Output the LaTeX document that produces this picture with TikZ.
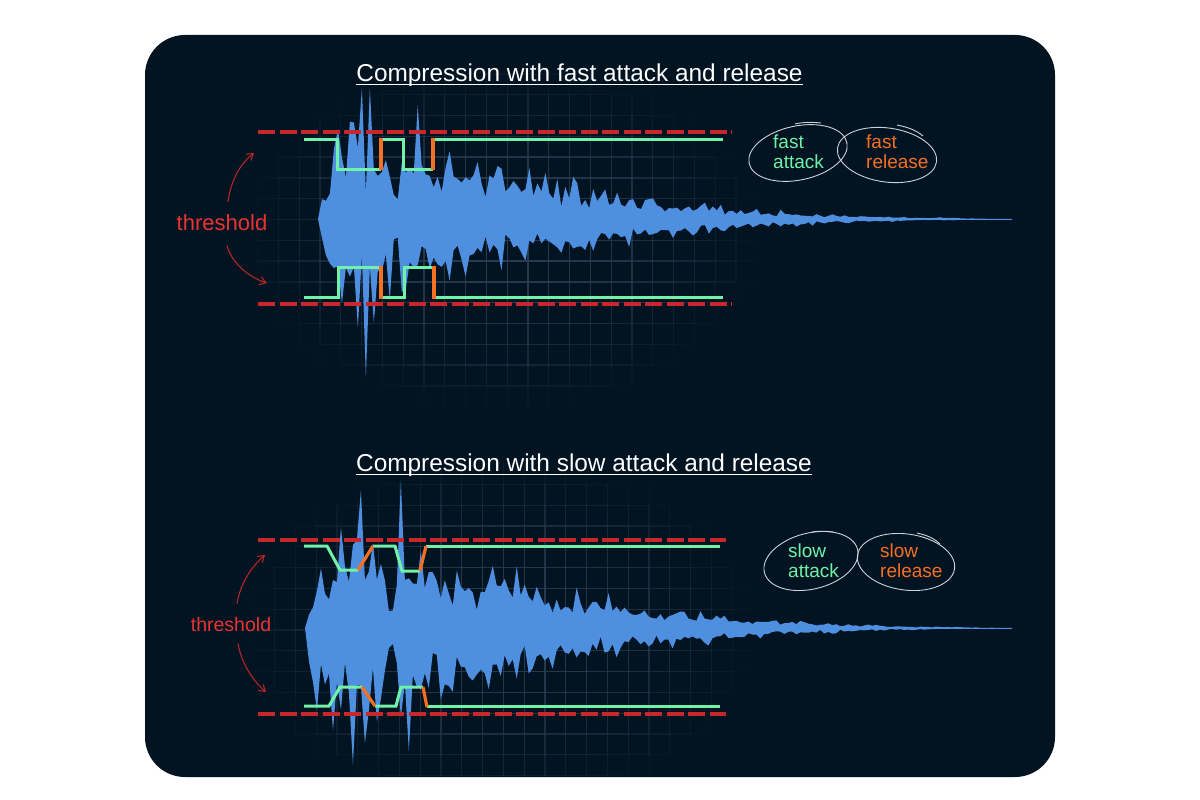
\documentclass[tikz,border=0pt]{standalone}
\usepackage{fontspec}
\setmainfont{Liberation Sans}
\usetikzlibrary{arrows.meta}

\definecolor{bgnavy}{RGB}{2,19,34}
\definecolor{gridnavy}{RGB}{42,60,80}
\definecolor{wavblue}{RGB}{78,143,224}
\definecolor{thrred}{RGB}{198,40,44}
\definecolor{txtred}{RGB}{232,52,50}
\definecolor{arrred}{RGB}{180,38,40}
\definecolor{gainmint}{RGB}{112,242,168}
\definecolor{relorange}{RGB}{245,112,34}
\definecolor{sketchgray}{RGB}{205,210,216}

\tikzset{
  gridline/.style={gridnavy, line width=1.3},
  wave/.style={fill=wavblue},
  thrline/.style={thrred, line width=3.5, dash pattern=on 17pt off 4.5pt},
  gain/.style={gainmint, line width=3},
  gainrel/.style={relorange, line width=3.2},
  ttl/.style={white, inner sep=0, anchor=base, font=\fontsize{24.4}{28}\selectfont},
  thrlbl/.style={txtred, inner sep=0, anchor=base},
  thrarrow/.style={arrred, line width=1.1, -{Straight Barb[length=6pt,width=8pt]}},
  lbl/.style={inner sep=0, anchor=base west, font=\fontsize{19}{20}\selectfont},
  sketch/.style={sketchgray, line width=0.9},
}

\begin{document}
\begin{tikzpicture}[x=1pt,y=-1pt,
  declare function={
    aenv(\x)=60*(1-exp(-(\x-318)/10))*exp(-(\x-345)/437-((\x-345)/360)^2)*min(1,(1012-\x)/60)*(1-0.8*exp(-((\x-397)/5)^2));
    aspk(\x)=80*exp(-((\x-362)/12)^2)+70*exp(-((\x-416)/10)^2)+0.9*aenv(\x);
    benv(\x)=64*(1-exp(-(\x-305)/9))*exp(-(\x-340)/437-((\x-340)/360)^2)*min(1,(1012-\x)/60)*(1-0.8*exp(-((\x-390)/5)^2));
    bspk(\x)=85*exp(-((\x-353)/12)^2)+70*exp(-((\x-406)/10)^2)+0.9*benv(\x);
  }]
%%%%% START %%%%%

\useasboundingbox (0,0) rectangle (1200,800);
\fill[white] (0,0) rectangle (1200,800);
\fill[bgnavy, rounded corners=40] (145,35) rectangle (1055,777);

% faint grids, fading away from the middle
\begin{scope}
  \clip[rounded corners=40] (145,35) rectangle (1055,777);
  \foreach \i in {-3,...,20}{
    \foreach \j in {-7,...,8}{
      \pgfmathsetmacro\gx{320+20.8*\i}
      \pgfmathsetmacro\gy{219.5+20.8*\j}
      \pgfmathsetmacro\gop{max(0,1-((\gx+10.4-500)/260)^2-((\gy-235)/175)^2)}
      \draw[gridline, opacity=\gop] (\gx,\gy) -- ++(20.8,0);
      \pgfmathsetmacro\gop{max(0,1-((\gx-500)/260)^2-((\gy+10.4-235)/175)^2)}
      \draw[gridline, opacity=\gop] (\gx,\gy) -- ++(0,20.8);
    }
  }
  \foreach \i in {-4,...,19}{
    \foreach \j in {-8,...,7}{
      \pgfmathsetmacro\gx{337+20.8*\i}
      \pgfmathsetmacro\gy{630+20.8*\j}
      \pgfmathsetmacro\gop{max(0,1-((\gx+10.4-500)/260)^2-((\gy-630)/175)^2)}
      \draw[gridline, opacity=\gop] (\gx,\gy) -- ++(20.8,0);
      \pgfmathsetmacro\gop{max(0,1-((\gx-500)/260)^2-((\gy+10.4-630)/175)^2)}
      \draw[gridline, opacity=\gop] (\gx,\gy) -- ++(0,20.8);
    }
  }
\end{scope}

\pgfmathsetseed{12}

% fast panel
\node[ttl] (ttlfast) at (579.5,81.7) {Compression with fast attack and release};
\draw[white, line width=1.5] ([yshift=-2.7pt]ttlfast.base west) -- ([yshift=-2.7pt]ttlfast.base east);

\fill[wave] plot[domain=318:1012, samples=175] (\x,{219-min(131,aenv(\x)*(0.35+0.65*sqrt(rnd))+aspk(\x)*rnd^3)})
  -- plot[domain=1012:318, samples=175] (\x,{219+min(168,aenv(\x)*(0.35+0.65*sqrt(rnd))+aspk(\x)*rnd^3)}) -- cycle;
\draw[wavblue, line width=1] (318,219) -- (1012,219);

\draw[thrline] (258,132) -- (732,132);
\draw[thrline] (258,304) -- (732,304);

\draw[gain] (304,139) -- (337,139) -- (337,169) -- (381,169);
\draw[gain] (381,139) -- (403,139) -- (403,169) -- (433,169);
\draw[gain] (433,139) -- (723,139);
\draw[gain] (304,297) -- (338,297) -- (338,267) -- (381,267);
\draw[gain] (381,297) -- (404,297) -- (404,267) -- (434,267);
\draw[gain] (434,297) -- (723,297);
\draw[gainrel] (381,170) -- (381,138);
\draw[gainrel] (433,170) -- (433,138);
\draw[gainrel] (381,266) -- (381,299);
\draw[gainrel] (434,266) -- (434,299);

\node[thrlbl, font=\fontsize{22}{26}\selectfont] (thrfast) at (222,230) {threshold};
\coordinate (thrfastU) at (254,153);
\coordinate (thrfastD) at (267,283);
\draw[thrarrow] ([shift={(6,-12)}]thrfast.north) .. controls (231,180) and (240,164) .. (thrfastU);
\draw[thrarrow] ([shift={(5,15)}]thrfast.south) .. controls (231,262) and (248,277) .. (thrfastD);

\draw[sketch, rotate around={12:(798,153)}] (798,153) ellipse [x radius=50, y radius=27];
\draw[sketch] (795,124) .. controls (803,122) and (812,122) .. (821,123);
\draw[sketch, rotate around={-8:(887,155)}] (887,155) ellipse [x radius=50, y radius=27];
\draw[sketch] (897,125) .. controls (907,127) and (916,130) .. (923,136);

\node[lbl, gainmint] (fastatk1) at (773,148) {fast};
\node[lbl, gainmint] (fastatk2) at (773,168) {attack};
\node[lbl, relorange] (fastrel1) at (866,148) {fast};
\node[lbl, relorange] (fastrel2) at (866,168) {release};

% slow panel
\node[ttl] (ttlslow) at (584,471.7) {Compression with slow attack and release};
\draw[white, line width=1.5] ([yshift=-2.7pt]ttlslow.base west) -- ([yshift=-2.7pt]ttlslow.base east);

\fill[wave] plot[domain=305:1012, samples=178] (\x,{628-min(150,benv(\x)*(0.35+0.65*sqrt(rnd))+bspk(\x)*rnd^3)})
  -- plot[domain=1012:305, samples=178] (\x,{628+min(137,benv(\x)*(0.35+0.65*sqrt(rnd))+bspk(\x)*rnd^3)}) -- cycle;
\draw[wavblue, line width=1] (305,628) -- (1012,628);

\draw[thrline] (258,540) -- (726,540);
\draw[thrline] (258,714) -- (726,714);

\draw[gain] (304,546) -- (327,546) -- (340,570) -- (358,570);
\draw[gain] (373,546) -- (395,546) -- (402,571) -- (420,571);
\draw[gain] (426,546) -- (720,546);
\draw[gain] (304,706) -- (329,706) -- (340,687) -- (362,687);
\draw[gain] (375,706) -- (396,706) -- (401,687) -- (423,687);
\draw[gain] (427,706) -- (720,706);
\draw[gainrel] (358,570) -- (373,546);
\draw[gainrel] (420,571) -- (426,546);
\draw[gainrel] (362,687) -- (375,706);
\draw[gainrel] (423,687) -- (427,707);

\node[thrlbl, font=\fontsize{19.5}{24}\selectfont] (thrslow) at (231,631) {threshold};
\coordinate (thrslowU) at (265,555);
\coordinate (thrslowD) at (266,692);
\draw[thrarrow] ([shift={(6,-13)}]thrslow.north) .. controls (240,585) and (250,568) .. (thrslowU);
\draw[thrarrow] ([shift={(7,12)}]thrslow.south) .. controls (241,662) and (252,680) .. (thrslowD);

\draw[sketch, rotate around={14:(811,561)}] (811,561) ellipse [x radius=48, y radius=28];
\draw[sketch] (812,532) .. controls (819,531) and (826,531) .. (833,532);
\draw[sketch, rotate around={-8:(906,562)}] (906,562) ellipse [x radius=49, y radius=28];
\draw[sketch] (917,533) .. controls (926,535) and (934,538) .. (940,544);

\node[lbl, gainmint] (slowatk1) at (788,557) {slow};
\node[lbl, gainmint] (slowatk2) at (788,577) {attack};
\node[lbl, relorange] (slowrel1) at (880,557) {slow};
\node[lbl, relorange] (slowrel2) at (880,577) {release};

%%%%% END %%%%%
\end{tikzpicture}
\end{document}
